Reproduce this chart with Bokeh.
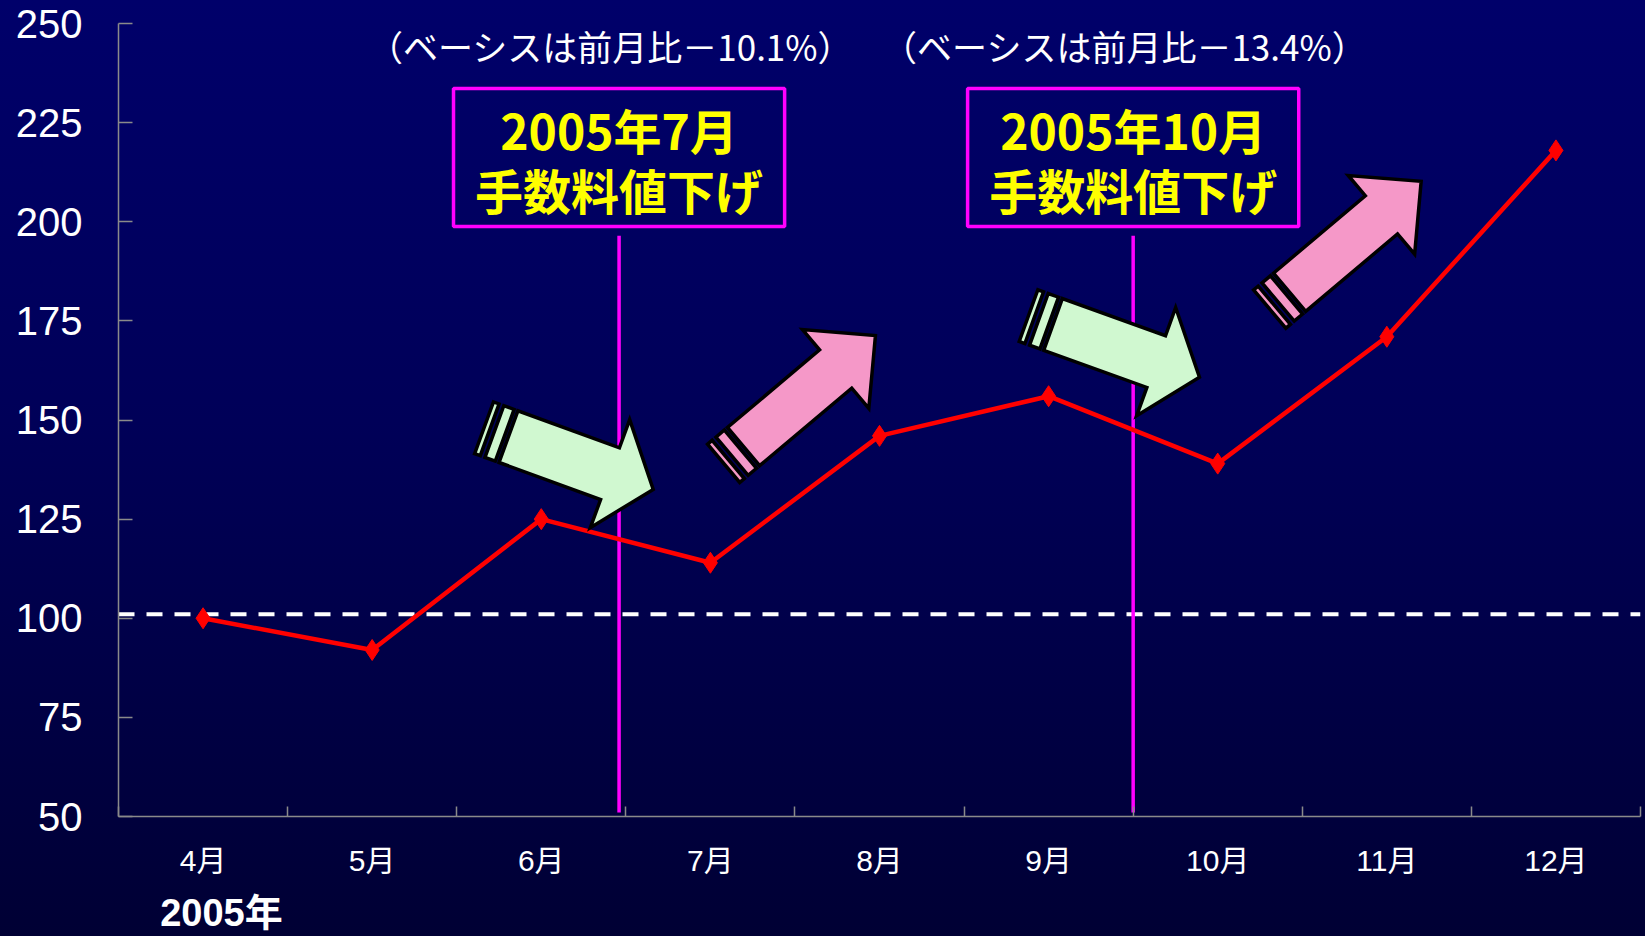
import math
from bokeh.plotting import figure
from bokeh.models import FixedTicker, Range1d, Span, LinearAxis
from bokeh.core.properties import value
from bokeh.embed import file_html
from bokeh.resources import INLINE

# ---------------- data ----------------
months = ["4月", "5月", "6月", "7月", "8月", "9月", "10月", "11月", "12月"]
index_values = [100, 92, 125, 114, 146, 156, 139, 171, 218]
baseline_level = 101
y_tick_values = [50, 75, 100, 125, 150, 175, 200, 225, 250]
event_boundaries = [2.96, 6.0]
event_titles = ["2005年7月", "2005年10月"]
event_subtitles = ["手数料値下げ", "手数料値下げ"]
basis_notes = ["（ベーシスは前月比－10.1%）", "（ベーシスは前月比－13.4%）"]
year_label = "2005年"

# decorative arrows (annotation positions, data units)
arrow_kinds = ["down", "up", "down", "up"]
arrow_tails = [(2.306, 145.8), (3.696, 143.3), (5.526, 174.1), (6.925, 182.2)]
arrow_tips = [(3.162, 132.5), (4.476, 171.3), (6.392, 160.8), (7.703, 210.2)]

# ---------------- layout ----------------
W, H = 1645, 936
FL, FR, FT, FB = 118, 1640, 23, 816
X_MIN, X_MAX = 0, len(months)
Y_MIN, Y_MAX = 50, 250
JP = value("Noto Sans CJK JP")
LAT_JP = "Liberation Sans, Noto Sans CJK JP"

p = figure(width=W, height=H,
           x_range=Range1d(X_MIN, X_MAX), y_range=Range1d(Y_MIN, Y_MAX),
           output_backend="svg", toolbar_location=None,
           min_border_left=FL, min_border_right=W - FR,
           min_border_top=FT, min_border_bottom=H - FB)
p.background_fill_alpha = 0
p.border_fill_alpha = 0
p.outline_line_color = None
p.grid.visible = False
p.styles = {"background": "linear-gradient(180deg, #00006a 0%, #000058 45%, #000034 100%)"}

AXIS_COLOR = "#8a8a8a"
xa = p.xaxis[0]
xa.ticker = FixedTicker(ticks=[i + 0.5 for i in range(len(months))],
                        minor_ticks=list(range(len(months) + 1)))
xa.major_label_overrides = {i + 0.5: m for i, m in enumerate(months)}
xa.major_tick_line_color = None
xa.major_tick_out = 0
xa.major_tick_in = 0
xa.minor_tick_line_color = AXIS_COLOR
xa.minor_tick_line_width = 1.5
xa.minor_tick_in = 10
xa.minor_tick_out = 0
xa.axis_line_color = AXIS_COLOR
xa.axis_line_width = 1.5
xa.major_label_text_color = "white"
xa.major_label_text_font = LAT_JP
xa.major_label_text_font_size = "30px"
xa.major_label_standoff = 27

# year caption: a line-less axis stacked below the month axis
YEAR_X = 0.609
year_axis = LinearAxis(ticker=FixedTicker(ticks=[YEAR_X], minor_ticks=[]),
                       major_label_overrides={YEAR_X: year_label},
                       axis_line_color=None, major_tick_line_color=None,
                       minor_tick_line_color=None, major_tick_out=0, major_tick_in=0,
                       minor_tick_out=0, minor_tick_in=0,
                       major_label_text_color="white",
                       major_label_text_font=LAT_JP,
                       major_label_text_font_style="bold",
                       major_label_text_font_size="38px",
                       major_label_standoff=12)
p.add_layout(year_axis, "below")

ya = p.yaxis[0]
ya.ticker = FixedTicker(ticks=y_tick_values, minor_ticks=[])
ya.major_tick_in = 14
ya.major_tick_out = 0
ya.major_tick_line_color = AXIS_COLOR
ya.major_tick_line_width = 1.5
ya.minor_tick_line_color = None
ya.axis_line_color = AXIS_COLOR
ya.axis_line_width = 1.5
ya.major_label_text_color = "white"
ya.major_label_text_font = "Liberation Sans"
ya.major_label_text_font_size = "40px"
ya.major_label_standoff = 36

# baseline
p.add_layout(Span(location=baseline_level, dimension="width", line_color="white",
                  line_width=4, line_dash="16 12", level="underlay"))

# event lines and boxes
BOX_HALF = 0.979
p.segment(x0=event_boundaries, y0=[51] * 2, x1=event_boundaries, y1=[196.5] * 2,
          line_color="#ff00ff", line_width=3.5)
p.quad(left=[b - BOX_HALF for b in event_boundaries],
       right=[b + BOX_HALF for b in event_boundaries],
       top=[233.6] * 2, bottom=[198.8] * 2,
       fill_alpha=0, line_color="#ff00ff", line_width=3.5)
p.text(x=event_boundaries, y=[223.3] * 2, text=event_titles, text_font=JP,
       text_font_style="bold", text_font_size="48px", text_color="#ffff00",
       text_align="center", text_baseline="middle")
p.text(x=event_boundaries, y=[208.2] * 2, text=event_subtitles, text_font=JP,
       text_font_style="bold", text_font_size="48px", text_color="#ffff00",
       text_align="center", text_baseline="middle")
p.text(x=[b - 0.05 for b in event_boundaries], y=[244.4] * 2, text=basis_notes,
       text_font=JP, text_font_size="35px", text_color="white",
       text_align="center", text_baseline="middle")

# series
xs = [i + 0.5 for i in range(len(months))]
p.line(xs, index_values, line_color="#ff0000", line_width=4.5)
p.scatter(xs, index_values, marker="diamond", size=21, fill_color="#ff0000",
          line_color="#ff0000")


# arrows
def to_px(x, y):
    return (FL + (x - X_MIN) / (X_MAX - X_MIN) * (FR - FL),
            FB - (y - Y_MIN) / (Y_MAX - Y_MIN) * (FB - FT))


def to_data(px, py):
    return (X_MIN + (px - FL) / (FR - FL) * (X_MAX - X_MIN),
            Y_MIN + (FB - py) / (FB - FT) * (Y_MAX - Y_MIN))


def arrow_shapes(tail, tip, bw, hw, hl, stripes):
    tx, ty = to_px(*tail)
    hx, hy = to_px(*tip)
    L = math.hypot(hx - tx, hy - ty)
    ux, uy = (hx - tx) / L, (hy - ty) / L
    nx, ny = -uy, ux

    def pt(s, t):
        return to_data(tx + ux * s + nx * t, ty + uy * s + ny * t)

    body = [pt(0, bw / 2), pt(L - hl, bw / 2), pt(L - hl, hw / 2), pt(L, 0),
            pt(L - hl, -hw / 2), pt(L - hl, -bw / 2), pt(0, -bw / 2)]
    shapes = [body]
    for s0, s1 in stripes:
        shapes.append([pt(-s0, bw / 2), pt(-s1, bw / 2), pt(-s1, -bw / 2), pt(-s0, -bw / 2)])
    return shapes


style = {"down": dict(bw=55, hw=115, hl=46, fill="#d0f8d0"),
         "up": dict(bw=50, hw=103, hl=52, fill="#f598c8")}
pxs, pys, fills = [], [], []
for kind, tail, tip in zip(arrow_kinds, arrow_tails, arrow_tips):
    st = style[kind]
    for shape in arrow_shapes(tail, tip, st["bw"], st["hw"], st["hl"], [(4, 15), (20, 26)]):
        pxs.append([q[0] for q in shape])
        pys.append([q[1] for q in shape])
        fills.append(st["fill"])
p.patches(pxs, pys, fill_color=fills, line_color="black", line_width=3.5, line_join="miter")

open("out.html", "w").write(file_html(p, INLINE))
